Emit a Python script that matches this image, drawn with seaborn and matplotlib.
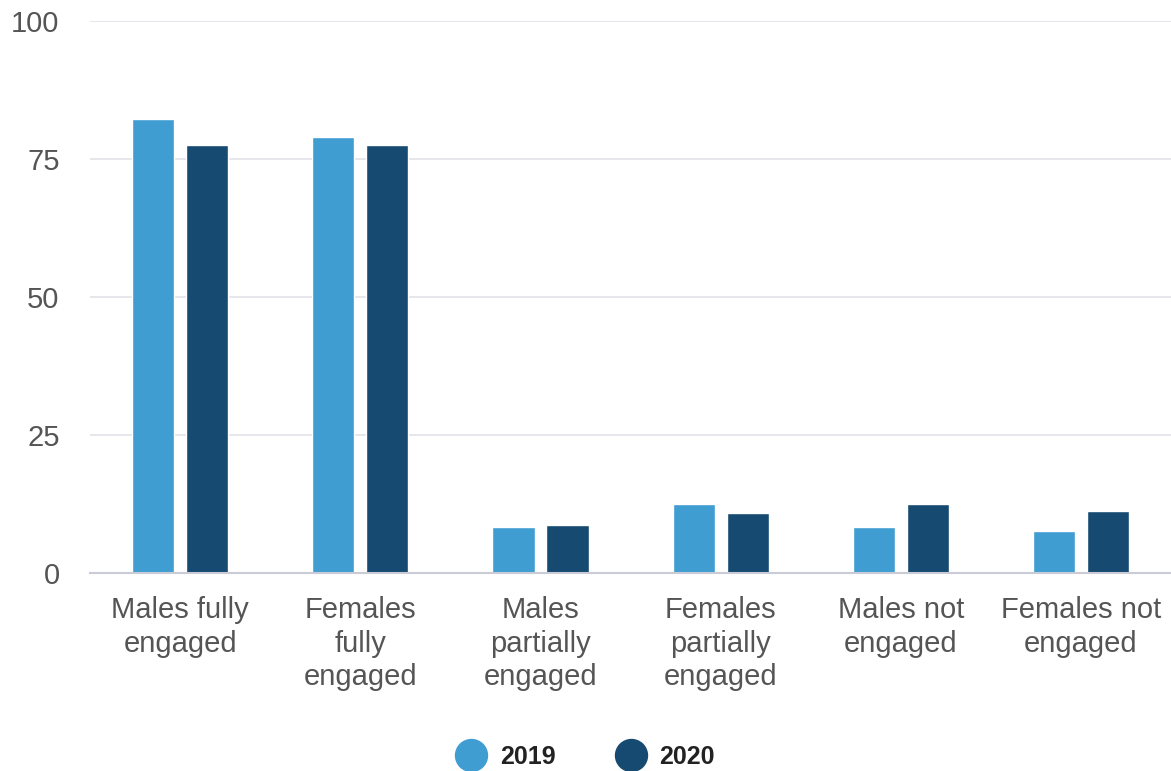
import matplotlib
matplotlib.use("Agg")
import matplotlib.pyplot as plt
import seaborn as sns
import pandas as pd
from matplotlib.lines import Line2D

categories = ["Males fully\nengaged", "Females\nfully\nengaged", "Males\npartially\nengaged",
              "Females\npartially\nengaged", "Males not\nengaged", "Females not\nengaged"]
years = ["2019", "2020"]
values_2019 = [82.2, 79.0, 8.3, 12.4, 8.3, 7.6]
values_2020 = [77.5, 77.5, 8.75, 10.9, 12.4, 11.2]
y_ticks = [0, 25, 50, 75, 100]
colors = ["#3f9dd2", "#164a70"]

df = pd.DataFrame({
    "category": categories * 2,
    "year": [years[0]] * len(categories) + [years[1]] * len(categories),
    "value": values_2019 + values_2020,
})

sns.set_theme(style="white")
plt.rcParams["font.family"] = ["Liberation Sans", "DejaVu Sans"]

fig = plt.figure(figsize=(11.71, 7.71), dpi=100)
ax = fig.add_axes([0.077, 0.257, 0.923, 0.716])

sns.barplot(data=df, x="category", y="value", hue="year", order=categories,
            hue_order=years, palette=colors, width=0.6, gap=0.22,
            saturation=1, ax=ax, legend=False, zorder=3)

ax.set_ylim(0, 100)
ax.set_xlim(-0.5, 5.5)
ax.set_yticks(y_ticks)
ax.set_yticklabels([str(t) for t in y_ticks])
ax.yaxis.grid(True, color="#e4e5eb", linewidth=1.3, zorder=0)
ax.set_axisbelow(True)
for s in ["top", "right", "left"]:
    ax.spines[s].set_visible(False)
ax.spines["bottom"].set_color("#c9ccd6")
ax.spines["bottom"].set_linewidth(1.5)
ax.spines["bottom"].set_zorder(4)
ax.set_xlabel("")
ax.set_ylabel("")
ax.tick_params(axis="y", length=0, pad=22, labelsize=21, labelcolor="#555555")
ax.tick_params(axis="x", length=0, pad=17, labelsize=21, labelcolor="#555555")
for lab in ax.get_xticklabels():
    lab.set_multialignment("center")
    lab.set_linespacing(1.24)

handles = [Line2D([0], [0], marker="o", linestyle="", markersize=23,
                  markerfacecolor=c, markeredgecolor=c) for c in colors]
fig.legend(handles, years, loc="center", bbox_to_anchor=(0.5, 0.018), ncol=2,
           frameon=False, prop={"weight": "bold", "size": 18},
           labelcolor="#222222", handletextpad=0.55, columnspacing=2.4,
           handlelength=1.2)

fig.savefig("out.png", dpi=100)
